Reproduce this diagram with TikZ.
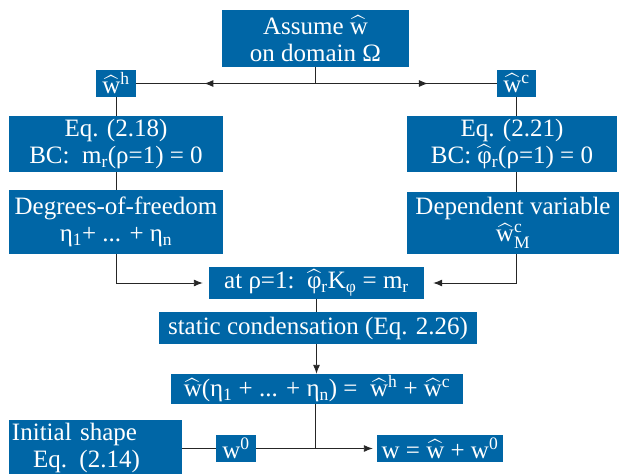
\documentclass[tikz,border=0pt]{standalone}
\usepackage{amsmath}
\usepackage{fontspec}
\setmainfont{Liberation Serif}
\usetikzlibrary{arrows.meta,positioning,calc,decorations.markings}
\definecolor{boxblue}{RGB}{0,102,166}
\newcommand{\hatw}{\ensuremath{\widehat{\text{w}}}}
\newcommand{\hatphi}{\ensuremath{\widehat{\text{φ}}}}
\newcommand{\subx}[1]{\ensuremath{_{\text{#1}}}}
\newcommand{\supx}[1]{\ensuremath{^{\text{#1}}}}

\begin{document}
\begin{tikzpicture}[x=1pt, y=-1pt,
    box/.style={fill=boxblue, text=white, inner sep=0pt, align=center, font=\fontsize{25}{27}\selectfont},
    link/.style={line width=0.9pt, draw=black!85},
    tip/.style={-{Latex[length=9pt,width=7pt]}},
    midtip/.style={postaction={decorate}, decoration={markings, mark=at position #1 with {\arrow{Latex[length=9pt,width=7pt]}}}}
]
\useasboundingbox (0,0) rectangle (619,474);

\node[box, minimum width=187pt, minimum height=57pt] (assume) at (315.5,38.5) {Assume \hatw\\on domain Ω};
\node[box, minimum width=40pt, minimum height=27pt] (wh) at (116,83.5) {\hatw\supx{h}};
\node[box, minimum width=39pt, minimum height=27pt] (wc) at (516.5,83.5) {\hatw\supx{c}};
\node[box, minimum width=214pt, minimum height=56pt] (eqA) at (116,144) {Eq. (2.18)\\BC:\ \ m\subx{r}(ρ=1) = 0};
\node[box, minimum width=210pt, minimum height=56pt] (eqB) at (512,144) {Eq. (2.21)\\BC: \hatphi\subx{r}(ρ=1) = 0};
\node[box, minimum width=214pt, minimum height=64pt] (dof) at (116,222) {Degrees-of-freedom\\η\subx{1}+ ... + η\subx{n}};
\node[box, minimum width=212pt, minimum height=62pt] (dep) at (513,223) {Dependent variable\\\hatw\ensuremath{^{\text{c}}_{\text{M}}}};
\node[box, minimum width=215pt, minimum height=32pt] (atrho) at (316.5,283) {at ρ=1:\ \ \hatphi\subx{r}K\subx{φ} = m\subx{r}};
\node[box, minimum width=318pt, minimum height=32pt] (static) at (318,328) {static condensation (Eq. 2.26)};
\node[box, minimum width=292pt, minimum height=30pt] (what) at (317,389) {\hatw(η\subx{1} + ... + η\subx{n}) =\ \ \hatw\supx{h} + \hatw\supx{c}};
\node[box, align=left, text width=167pt, inner xsep=3pt, minimum height=56pt] (init) at (95.5,448) {Initial shape\\\hspace*{21pt}Eq. (2.14)};
\node[box, minimum width=40pt, minimum height=27pt] (wzero) at (236,448.5) {w\supx{0}};
\node[box, minimum width=126pt, minimum height=27pt] (wres) at (440,448.5) {w = \hatw\ + w\supx{0}};

\coordinate (jtop) at (assume.south |- wh.east);
\coordinate (jbot) at (assume.south |- wzero.east);

\draw[link] (assume) -- (jtop);
\draw[link, midtip=0.62] (jtop) -- (wh);
\draw[link, midtip=0.62] (jtop) -- (wc);
\draw[link] (wh) -- (eqA);
\draw[link] (wc.south) -- (wc.south |- eqB.north);
\draw[link] (eqA) -- (dof);
\draw[link] (wc.south |- eqB.south) -- (wc.south |- dep.north);
\draw[link, tip, shorten >=6pt] (dof.south) |- (atrho.west);
\draw[link, tip, shorten >=9pt] (wc.south |- dep.south) |- (atrho.east);
\draw[link] (atrho.south) -- (atrho.south |- static.north);
\draw[link, tip] (atrho.south |- static.south) -- (atrho.south |- what.north);
\draw[link] (jbot |- what.south) -- (jbot);
\draw[link] (init.east |- wzero.west) -- (wzero.west);
\draw[link] (wzero) -- (jbot);
\draw[link, tip, shorten >=4pt] (jbot) -- (wres);
\end{tikzpicture}
\end{document}
